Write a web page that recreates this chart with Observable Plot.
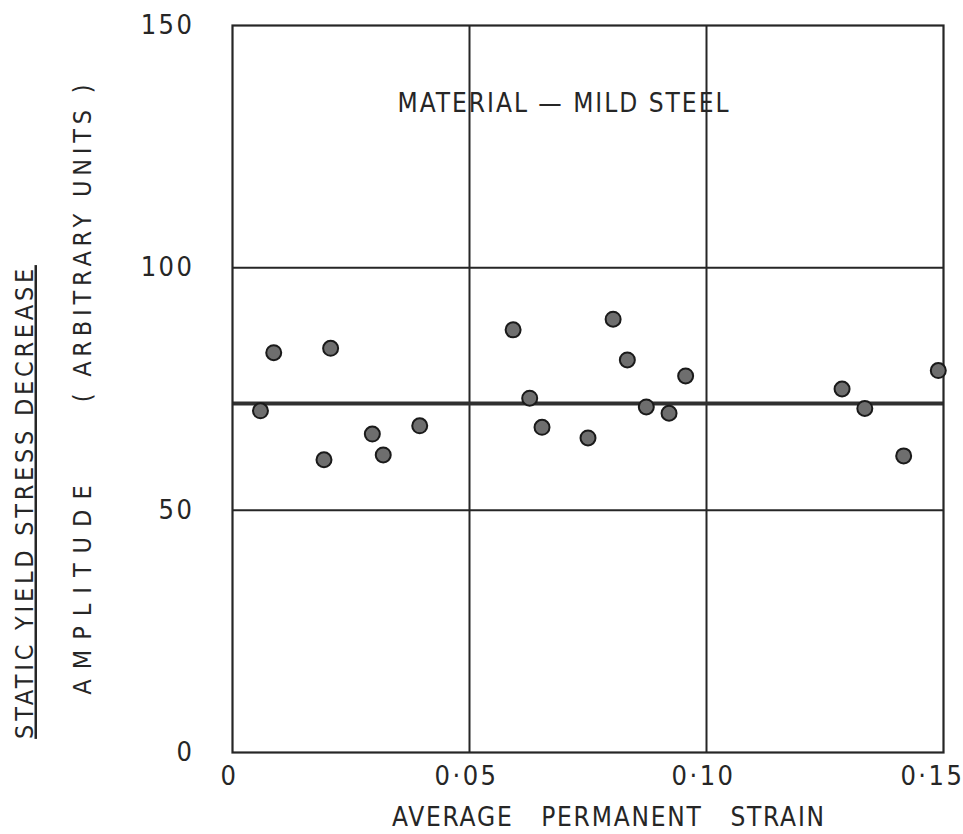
<!DOCTYPE html>
<html>
<head>
<meta charset="utf-8">
<script src="https://cdn.jsdelivr.net/npm/d3@7"></script>
<script src="https://cdn.jsdelivr.net/npm/@observablehq/plot@0.6"></script>
<style>
  html, body { margin: 0; padding: 0; background: #fff; }
  .lbl text { font-family: "DejaVu Sans Condensed", "DejaVu Sans", sans-serif; font-stretch: condensed; }
  .ylab1 text { text-decoration: underline; text-underline-offset: 9px; text-decoration-thickness: 2px; letter-spacing: 3.75px; }
  .ylab2a text { letter-spacing: 10px; }
  .ylab2b text { letter-spacing: 4.8px; }
  .ttl text { letter-spacing: 2px; }
  .xlab text { letter-spacing: 1.8px; }
  .tick text { letter-spacing: 2.5px; }
</style>
</head>
<body>
<div id="chart"></div>
<script>
// Data
const strain = [0.0059, 0.0087, 0.0193, 0.0207, 0.0295, 0.0318, 0.0395,
                0.0592, 0.0627, 0.0653, 0.0750, 0.0803, 0.0833, 0.0873, 0.0921, 0.0956,
                0.1286, 0.1334, 0.1416, 0.1489];
const amplitude = [70.5, 82.5, 60.4, 83.4, 65.7, 61.4, 67.4,
                   87.2, 73.1, 67.1, 64.9, 89.4, 81.0, 71.3, 70.0, 77.7,
                   75.0, 71.0, 61.2, 78.8];
const meanAmplitude = 72;
const xTicks = [0, 0.05, 0.10, 0.15];
const xTickLabels = ["0", "0·05", "0·10", "0·15"];
const yTicks = [0, 50, 100, 150];
const yTickLabels = ["0", "50", "100", "150"];
const xGrid = [0.05, 0.10];
const yGrid = [50, 100];
const title = "MATERIAL — MILD STEEL";
const yLabel1 = "STATIC YIELD STRESS DECREASE";
const yLabel2a = "AMPLITUDE";
const yLabel2b = "( ARBITRARY UNITS )";
const xLabel = "AVERAGE\u00a0\u00a0\u00a0PERMANENT\u00a0\u00a0\u00a0STRAIN";

const data = strain.map((s, i) => ({strain: s, amplitude: amplitude[i]}));
const xTickData = xTicks.map((t, i) => ({t, label: xTickLabels[i]}));
const yTickData = yTicks.map((t, i) => ({t, label: yTickLabels[i]}));

const ink = "#262626";
const common = {fill: ink, textAnchor: "middle", lineAnchor: "middle"};

const chart = Plot.plot({
  width: 963,
  height: 834,
  marginLeft: 232,
  marginRight: 20,
  marginTop: 25,
  marginBottom: 82,
  style: {fontFamily: "DejaVu Sans, sans-serif", background: "#fff", color: ink},
  x: {domain: [0, 0.15], axis: null},
  y: {domain: [0, 150], axis: null},
  marks: [
    Plot.ruleX(xGrid, {stroke: ink, strokeWidth: 2}),
    Plot.ruleY(yGrid, {stroke: ink, strokeWidth: 2}),
    Plot.ruleY([meanAmplitude], {stroke: "#303030", strokeWidth: 4}),
    Plot.frame({stroke: ink, strokeWidth: 2.2}),
    Plot.dot(data, {x: "strain", y: "amplitude", r: 7.5, fill: "#6e6e6e", stroke: "#1a1a1a", strokeWidth: 2}),
    Plot.text(yTickData, {...common, textAnchor: "end", frameAnchor: "left", y: "t", text: "label", dx: -38, fontSize: 27, className: "lbl tick"}),
    Plot.text(xTickData.slice(0, 3), {...common, x: "t", frameAnchor: "bottom", text: "label", dx: -3, dy: 24, fontSize: 27, className: "lbl tick"}),
    Plot.text(xTickData.slice(3), {...common, textAnchor: "end", x: "t", frameAnchor: "bottom", text: "label", dx: 21, dy: 24, fontSize: 27, className: "lbl tick"}),
    Plot.text([title], {...common, frameAnchor: "top", dx: -24, dy: 78, fontSize: 26, className: "lbl ttl"}),
    Plot.text([yLabel1], {...common, frameAnchor: "left", rotate: -90, dx: -208, dy: 113, fontSize: 25, className: "lbl ylab1"}),
    Plot.text([yLabel2a], {...common, frameAnchor: "left", rotate: -90, dx: -150, dy: 196, fontSize: 25, className: "lbl ylab2a"}),
    Plot.text([yLabel2b], {...common, frameAnchor: "left", rotate: -90, dx: -150, dy: -148, fontSize: 25, className: "lbl ylab2b"}),
    Plot.text([xLabel], {...common, frameAnchor: "bottom", dx: 21, dy: 65, fontSize: 26, className: "lbl xlab"})
  ]
});
document.getElementById("chart").append(chart);
</script>
</body>
</html>
